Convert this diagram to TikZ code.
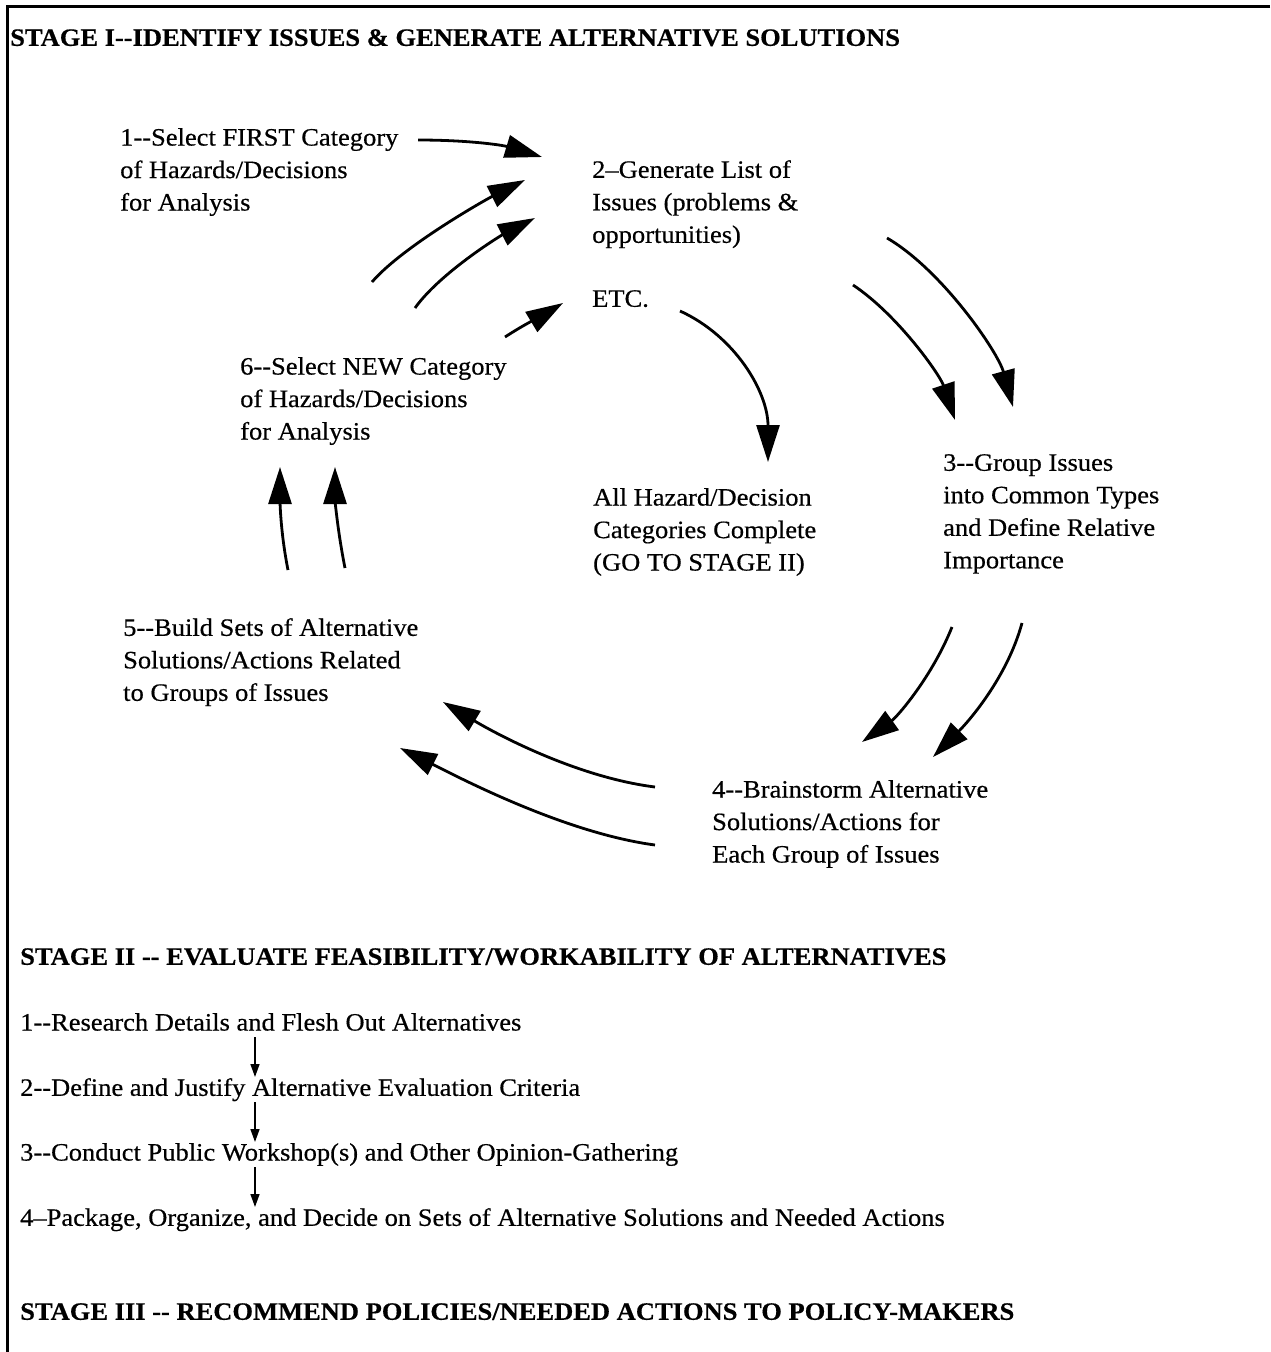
\documentclass[tikz,border=0pt]{standalone}
\usepackage{fontspec}
\setmainfont{Liberation Serif}[FakeStretch=1.06, FakeBold=0.5]
\usetikzlibrary{arrows.meta}
\begin{document}
\begin{tikzpicture}[x=1pt,y=-1pt,
  txt/.style={anchor=north west, inner sep=0pt, align=left, font=\fontsize{25}{32.5}\selectfont},
  ttl/.style={anchor=north west, inner sep=0pt, font=\bfseries\fontsize{25}{30}\selectfont},
  bigarrow/.style={line width=2.8pt, -{Triangle[length=37pt,width=23pt]}},
  smallarrow/.style={line width=1.5pt, -{Triangle[length=13pt,width=9pt]}},
  frameline/.style={line width=3pt}]
\useasboundingbox (0,0) rectangle (1270,1352);
\draw[frameline] (1270,6) -- (7,6) -- (7,1352);

% titles
\node[ttl] (t1) at (10,29) {STAGE I-{}-IDENTIFY ISSUES \& GENERATE ALTERNATIVE SOLUTIONS};
\node[ttl] (t2) at (20,948) {STAGE II -{}- EVALUATE FEASIBILITY/WORKABILITY OF ALTERNATIVES};
\node[ttl] (t3) at (20,1303) {STAGE III -{}- RECOMMEND POLICIES/NEEDED ACTIONS TO POLICY-MAKERS};

% stage I nodes
\node[txt] (n1) at (120,128) {1-{}-Select FIRST Category\\of Hazards/Decisions\\for Analysis};
\node[txt] (n2) at (592,160) {2--Generate List of\\Issues (problems \&\\opportunities)};
\node[txt] (etc) at (592,290) {ETC.};
\node[txt] (n6) at (240,357) {6-{}-Select NEW Category\\of Hazards/Decisions\\for Analysis};
\node[txt] (all) at (593,488) {All Hazard/Decision\\Categories Complete\\(GO TO STAGE II)};
\node[txt] (n3) at (943,454) {3-{}-Group Issues\\into Common Types\\and Define Relative\\Importance};
\node[txt] (n5) at (123,618) {5-{}-Build Sets of Alternative\\Solutions/Actions Related\\to Groups of Issues};
\node[txt] (n4) at (712,780) {4-{}-Brainstorm Alternative\\Solutions/Actions for\\Each Group of Issues};

% stage II list
\node[txt] (s1) at (20,1013) {1-{}-Research Details and Flesh Out Alternatives};
\node[txt] (s2) at (20,1078) {2-{}-Define and Justify Alternative Evaluation Criteria};
\node[txt] (s3) at (20,1143) {3-{}-Conduct Public Workshop(s) and Other Opinion-Gathering};
\node[txt] (s4) at (20,1208) {4--Package, Organize, and Decide on Sets of Alternative Solutions and Needed Actions};

% arrow end points
\coordinate (a1s) at (418,140);  \coordinate (a1e) at (542,157);
\coordinate (a2s) at (372,282);  \coordinate (a2e) at (525,180);
\coordinate (a3s) at (415,308);  \coordinate (a3e) at (535,218);
\coordinate (a4s) at (505,337);  \coordinate (a4e) at (563,303);
\coordinate (a5s) at (680,311);  \coordinate (a5e) at (768,462);
\coordinate (a6s) at (853,285);  \coordinate (a6e) at (955,420);
\coordinate (a7s) at (887,238);  \coordinate (a7e) at (1013,407);
\coordinate (a8s) at (952,627);  \coordinate (a8e) at (862,742);
\coordinate (a9s) at (1022,623); \coordinate (a9e) at (933,757);
\coordinate (a10s) at (655,787); \coordinate (a10e) at (443,702);
\coordinate (a11s) at (655,845); \coordinate (a11e) at (400,748);
\coordinate (a12s) at (288,570); \coordinate (a12e) at (280,467);
\coordinate (a13s) at (345,568); \coordinate (a13e) at (335,467);

\draw[bigarrow] (a1s) .. controls +(50,0) and +(-40,-12) .. (a1e);
\draw[bigarrow] (a2s) .. controls +(30,-35) and +(-40,20) .. (a2e);
\draw[bigarrow] (a3s) .. controls +(25,-35) and +(-35,18) .. (a3e);
\draw[bigarrow] (a4s) .. controls +(20,-13) and +(-20,12) .. (a4e);
\draw[bigarrow] (a5s) .. controls +(55,25) and +(0,-70) .. (a5e);
\draw[bigarrow] (a6s) .. controls +(45,30) and +(-15,-45) .. (a6e);
\draw[bigarrow] (a7s) .. controls +(55,32) and +(-15,-55) .. (a7e);
\draw[bigarrow] (a8s) .. controls +(-20,50) and +(35,-25) .. (a8e);
\draw[bigarrow] (a9s) .. controls +(-15,55) and +(35,-35) .. (a9e);
\draw[bigarrow] (a10s) .. controls +(-80,-10) and +(50,30) .. (a10e);
\draw[bigarrow] (a11s) .. controls +(-90,-12) and +(60,30) .. (a11e);
\draw[bigarrow] (a12s) .. controls +(-8,-40) and +(0,30) .. (a12e);
\draw[bigarrow] (a13s) .. controls +(-8,-40) and +(0,30) .. (a13e);

% stage II arrows
\coordinate (b1s) at (255,1037); \coordinate (b1e) at (255,1077);
\coordinate (b2s) at (255,1102); \coordinate (b2e) at (255,1142);
\coordinate (b3s) at (255,1167); \coordinate (b3e) at (255,1207);
\draw[smallarrow] (b1s) -- (b1e);
\draw[smallarrow] (b2s) -- (b2e);
\draw[smallarrow] (b3s) -- (b3e);
\end{tikzpicture}
\end{document}
